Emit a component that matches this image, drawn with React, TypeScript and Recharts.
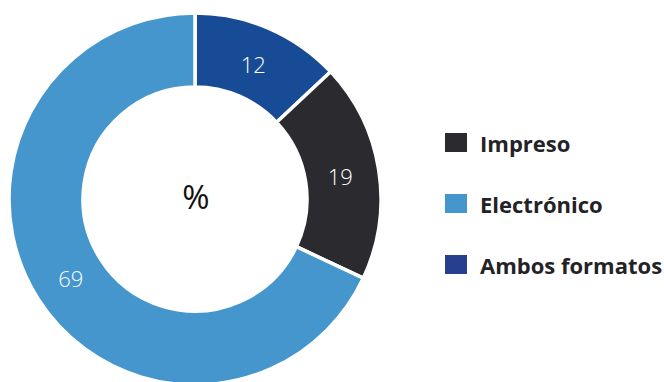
import { PieChart, Pie, Cell } from 'recharts';

const categories = ['Ambos formatos', 'Impreso', 'Electrónico'];
// arc sizes as drawn in the original (its slices measure 13 / 19 / 68)
const shares = [13, 19, 68];
// numbers printed on the slices
const labels = [12, 19, 69];
const legendOrder = ['Impreso', 'Electrónico', 'Ambos formatos'];

const COLORS: Record<string, string> = {
  'Ambos formatos': '#174b95',
  Impreso: '#2b2a2f',
  'Electrónico': '#4596cd',
};
const LEGEND_COLORS: Record<string, string> = {
  ...COLORS,
  'Ambos formatos': '#263f8e',
};

const FONT = '"Open Sans", "Noto Sans", sans-serif';

const data = categories.map((name, i) => ({ name, value: shares[i], label: labels[i] }));

const RADIAN = Math.PI / 180;

function renderLabel(props: any) {
  const { cx, cy, midAngle, index } = props;
  const r = 147;
  const a = midAngle * RADIAN;
  const x = cx + r * Math.cos(-a);
  const y = cy + r * Math.sin(-a);
  return (
    <text
      x={x}
      y={y}
      fill="#ffffff"
      fontSize={22}
      fontWeight={300}
      fontFamily={FONT}
      textAnchor="middle"
      dominantBaseline="central"
    >
      {data[index].label}
    </text>
  );
}

export default function App() {
  return (
    <div style={{ position: 'fixed', left: 0, top: 0, width: 664, height: 382, background: '#fff' }}>
      <PieChart width={664} height={382} margin={{ top: 0, right: 0, bottom: 0, left: 0 }}>
        <Pie
          data={data}
          dataKey="value"
          nameKey="name"
          cx={195}
          cy={199}
          innerRadius={112}
          outerRadius={186}
          startAngle={90}
          endAngle={-270}
          stroke="#ffffff"
          strokeWidth={3.5}
          label={renderLabel}
          labelLine={false}
          isAnimationActive={false}
        >
          {data.map((d) => (
            <Cell key={d.name} fill={COLORS[d.name]} />
          ))}
        </Pie>
        <text
          x={196}
          y={196}
          textAnchor="middle"
          dominantBaseline="central"
          fontSize={33}
          fontFamily={FONT}
          fill="#111"
        >
          %
        </text>
      </PieChart>
      <div style={{ position: 'absolute', left: 445, top: 112, fontFamily: FONT }}>
        {legendOrder.map((name) => (
          <div key={name} style={{ display: 'flex', alignItems: 'center', height: 61 }}>
            <span
              style={{
                display: 'inline-block',
                width: 22,
                height: 19,
                background: LEGEND_COLORS[name],
                marginRight: 13,
              }}
            />
            <span style={{ fontSize: 22, fontWeight: 700, color: '#232226', whiteSpace: 'nowrap' }}>{name}</span>
          </div>
        ))}
      </div>
    </div>
  );
}
